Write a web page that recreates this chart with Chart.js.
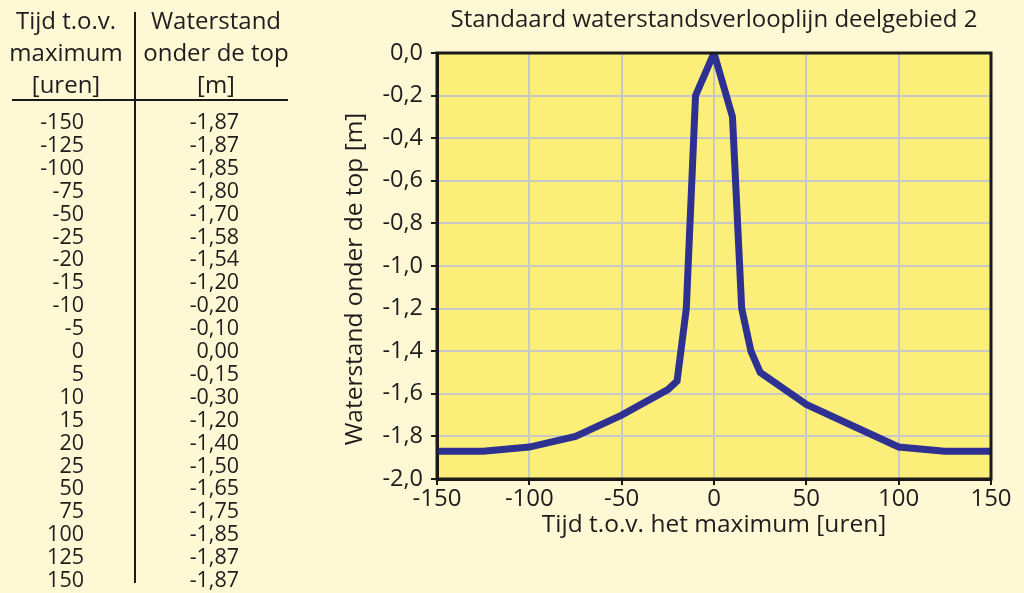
<!DOCTYPE html>
<html><head><meta charset="utf-8">
<script src="https://cdn.jsdelivr.net/npm/chart.js@4/dist/chart.umd.min.js"></script>
<style>
html,body{margin:0;padding:0;background:#FEF8D5;width:1024px;height:593px;overflow:hidden;font-family:'Open Sans',sans-serif;color:#231F20;}
#wrap{position:relative;width:1024px;height:593px;}
canvas{position:absolute;left:0;top:0;}
.t{position:absolute;white-space:nowrap;line-height:1;}
.line{position:absolute;background:#1a1a1a;}
</style></head><body><div id="wrap"><canvas id="c" width="1024" height="593"></canvas></div>
<script>
// ---- data ----
const hours = [-150,-125,-100,-75,-50,-25,-20,-15,-10,-5,0,5,10,15,20,25,50,75,100,125,150];
const levels = [-1.87,-1.87,-1.85,-1.80,-1.70,-1.58,-1.54,-1.20,-0.20,-0.10,0.00,-0.15,-0.30,-1.20,-1.40,-1.50,-1.65,-1.75,-1.85,-1.87,-1.87];
const headerCol1 = ['Tijd t.o.v.','maximum','[uren]'];
const headerCol2 = ['Waterstand','onder de top','[m]'];
const xTicks = [-150,-100,-50,0,50,100,150];
const yTicks = [0,-0.2,-0.4,-0.6,-0.8,-1.0,-1.2,-1.4,-1.6,-1.8,-2.0];
const chartTitle = 'Standaard waterstandsverlooplijn deelgebied 2';
const xTitle = 'Tijd t.o.v. het maximum [uren]';
const yTitle = 'Waterstand onder de top [m]';

const FONT = "'Open Sans', sans-serif";
const TXT = '#1F1C1D';
const fmt = v => v.toFixed(2).replace('.', ',');

// ---- table ----
const wrap = document.getElementById('wrap');
function addText(s, x, y, size, align){
  const d = document.createElement('div');
  d.className = 't';
  d.textContent = s;
  d.style.fontSize = size + 'px';
  d.style.left = x + 'px';
  d.style.top = y + 'px';
  d.style.color = TXT;
  d.style.transform = align === 'center' ? 'translate(-50%,-50%)' : 'translate(-100%,-50%)';
  wrap.appendChild(d);
}
headerCol1.forEach((s,i)=>addText(s, 66, 20 + i*32, 24, 'center'));
headerCol2.forEach((s,i)=>addText(s, 216, 20 + i*32, 24, 'center'));
const rowStep = (579-121)/(hours.length-1);
hours.forEach((h,i)=>{
  addText(String(h), 84, 121 + i*rowStep, 21.5, 'right');
  addText(fmt(levels[i]), 239, 121 + i*rowStep, 21.5, 'right');
});
const hr = document.createElement('div'); hr.className='line';
Object.assign(hr.style,{left:'12px',top:'99px',width:'276px',height:'2px'}); wrap.appendChild(hr);
const vr = document.createElement('div'); vr.className='line';
Object.assign(vr.style,{left:'134px',top:'12px',width:'2px',height:'571px'}); wrap.appendChild(vr);

// ---- chart ----
const plotFrame = {
  id:'plotFrame',
  beforeDraw(chart){
    const {ctx, chartArea:a} = chart;
    ctx.save(); ctx.fillStyle = '#FBEF7A';
    ctx.fillRect(a.left, a.top, a.right-a.left, a.bottom-a.top); ctx.restore();
  },
  afterDraw(chart){
    const {ctx, chartArea:a} = chart;
    ctx.save(); ctx.strokeStyle = '#1a1a1a'; ctx.lineWidth = 3;
    ctx.strokeRect(a.left, a.top, a.right-a.left, a.bottom-a.top);
    // y axis title
    ctx.translate(355, 279); ctx.rotate(-Math.PI/2);
    ctx.fillStyle = TXT; ctx.font = "24.5px " + FONT;
    ctx.textAlign = 'center'; ctx.textBaseline = 'middle';
    ctx.fillText(yTitle, 0, 0);
    ctx.restore();
  }
};

new Chart(document.getElementById('c'), {
  type:'scatter',
  data:{datasets:[{
    data: hours.map((h,i)=>({x:h, y:levels[i]})),
    showLine:true, borderColor:'#2E3192', backgroundColor:'#2E3192',
    borderWidth:7, pointRadius:0, tension:0, fill:false, borderJoinStyle:'miter'
  }]},
  options:{
    responsive:false, animation:false, devicePixelRatio:1,
    layout:{padding:{left:330, right:33, top:0, bottom:0}},
    plugins:{
      legend:{display:false}, tooltip:{enabled:false},
      title:{display:true, text:chartTitle, fullSize:false, color:TXT,
        font:{family:FONT, size:24, weight:'normal', lineHeight:1.2},
        padding:{top:5.6, bottom:18.6}}
    },
    scales:{
      x:{type:'linear', min:-150, max:150,
        afterBuildTicks: s => { s.ticks = xTicks.map(v=>({value:v})); },
        afterFit: s => { s.height = 114; },
        ticks:{color:TXT, font:{family:FONT, size:24}, padding:0, maxRotation:0, callback:v=>String(v)},
        grid:{color:'#C8C8C8', lineWidth:2, tickColor:'#1a1a1a', tickLength:6},
        border:{display:true, color:'#1a1a1a', width:3},
        title:{display:true, text:xTitle, color:TXT, font:{family:FONT, size:24.5, lineHeight:1.2}, padding:{top:0, bottom:53.3}}
      },
      y:{type:'linear', min:-2, max:0,
        afterBuildTicks: s => { s.ticks = yTicks.map(v=>({value:v})); },
        afterFit: s => { s.width = 107; },
        ticks:{color:TXT, font:{family:FONT, size:23.5}, padding:8, callback:v=>v.toFixed(1).replace('.', ',')},
        grid:{color:'#C8C8C8', lineWidth:2, tickColor:'#1a1a1a', tickLength:6},
        border:{display:true, color:'#1a1a1a', width:3},
        title:{display:false}
      }
    }
  },
  plugins:[plotFrame]
});
</script></body></html>
